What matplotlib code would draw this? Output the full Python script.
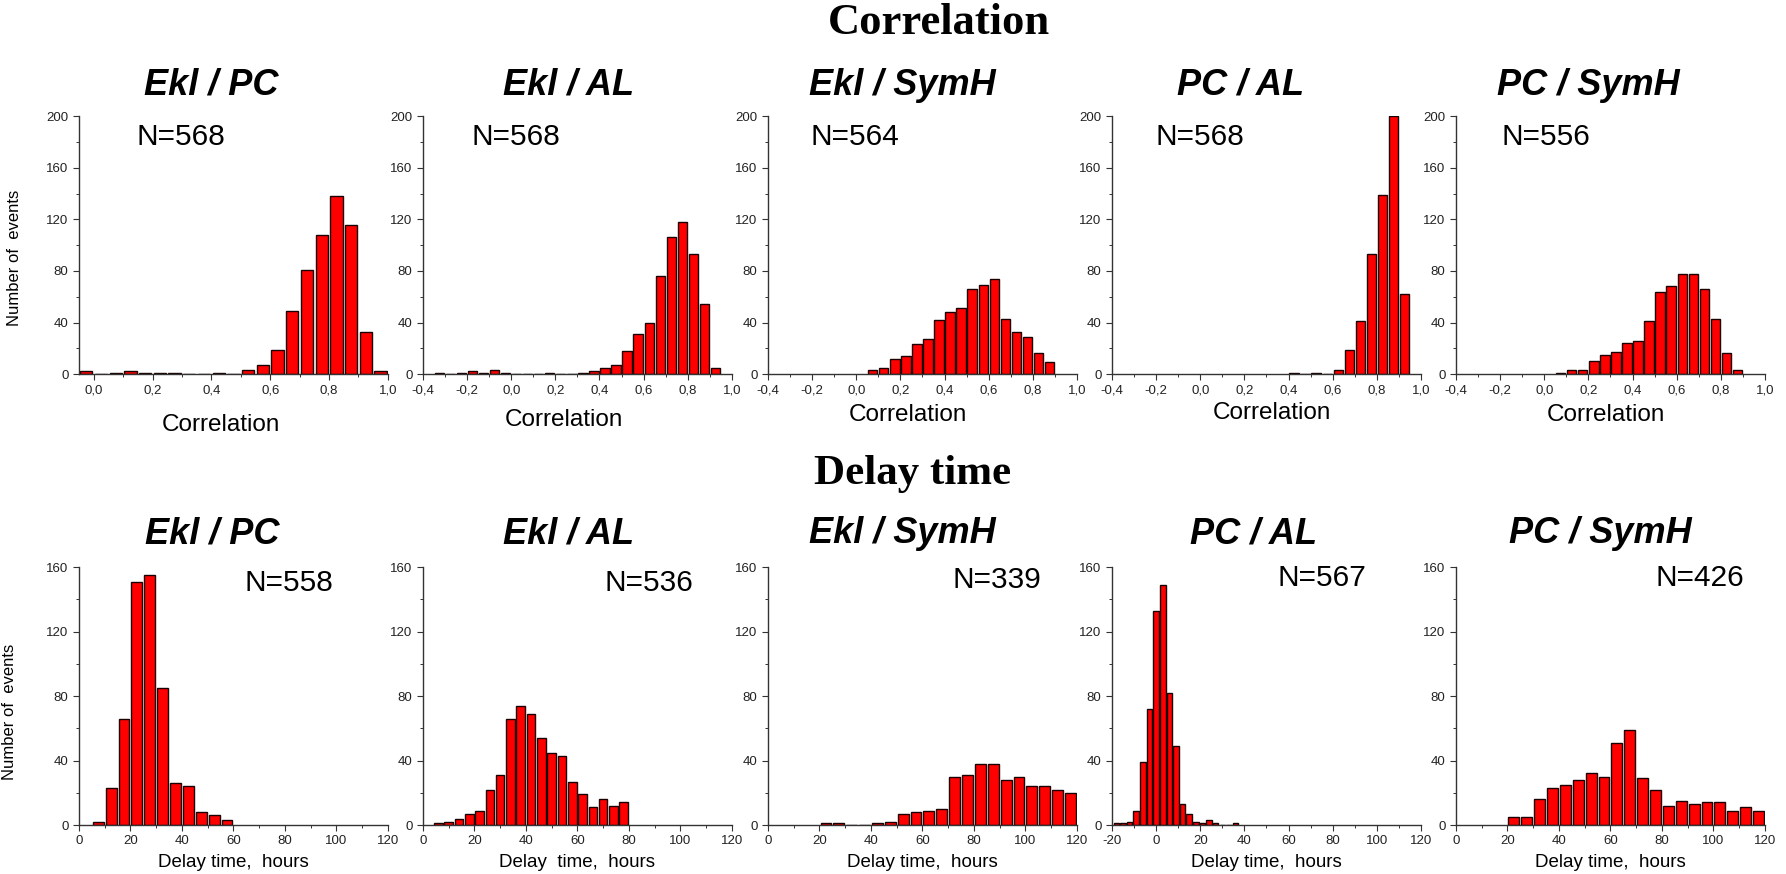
import numpy as np
import matplotlib.pyplot as plt
from matplotlib.ticker import MultipleLocator, FuncFormatter

plt.rcParams['font.family'] = ['Liberation Sans', 'DejaVu Sans']
plt.rcParams['axes.unicode_minus'] = False

BAR_COLOR = '#ff0000'
EDGE_COLOR = '#1a0000'
AXIS_COLOR = '#333333'

PAIRS = ['Ekl / PC', 'Ekl / AL', 'Ekl / SymH', 'PC / AL', 'PC / SymH']

# --- correlation histograms (bin width 0.05, first bin left edge) ---
corr_n = [568, 568, 564, 568, 556]
corr_start = [-0.05, -0.35, 0.05, 0.40, 0.05]
corr_ekl_pc = [2, 0, 1, 2, 1, 1, 1, 0, 0, 1, 0, 3, 7, 19, 49, 81, 108, 138, 116, 33, 2]
corr_ekl_al = [1, 0, 1, 2, 1, 3, 1, 0, 0, 0, 1, 0, 0, 1, 2, 5, 7, 18, 31, 40, 76,
               106, 118, 93, 54, 5]
corr_ekl_symh = [3, 5, 12, 14, 23, 27, 42, 48, 51, 66, 69, 74, 43, 33, 29, 16, 9]
corr_pc_al = [1, 0, 1, 0, 3, 19, 41, 93, 139, 200, 62]
corr_pc_symh = [1, 3, 3, 10, 15, 17, 24, 26, 41, 64, 68, 78, 78, 66, 43, 16, 3]
corr_counts = [corr_ekl_pc, corr_ekl_al, corr_ekl_symh, corr_pc_al, corr_pc_symh]
corr_xlim = [(-0.05, 1.0), (-0.4, 1.0), (-0.4, 1.0), (-0.4, 1.0), (-0.4, 1.0)]

# --- delay time histograms (hours) ---
delay_n = [558, 536, 339, 567, 426]
delay_start = [5, 4, 20, -19.5, 20]
delay_width = [5, 4, 5, 3, 5]
delay_ekl_pc = [2, 23, 66, 151, 155, 85, 26, 24, 8, 6, 3]
delay_ekl_al = [1, 2, 4, 7, 9, 22, 31, 66, 74, 69, 54, 45, 43, 27, 19, 11, 16, 12, 14]
delay_ekl_symh = [1, 1, 0, 0, 1, 2, 7, 8, 9, 10, 30, 31, 38, 38, 28, 30, 24, 24, 22, 20]
delay_pc_al = [1, 1, 2, 9, 39, 72, 133, 149, 82, 49, 13, 7, 2, 1, 3, 1, 0, 0, 1]
delay_pc_symh = [5, 5, 16, 23, 25, 28, 32, 30, 51, 59, 29, 22, 12, 15, 13, 14, 14, 9, 11, 9]
delay_counts = [delay_ekl_pc, delay_ekl_al, delay_ekl_symh, delay_pc_al, delay_pc_symh]
delay_xlim = [(0, 120), (0, 120), (0, 120), (-20, 120), (0, 120)]
delay_xlabels = ['Delay time,  hours', 'Delay  time,  hours', 'Delay time,  hours',
                 'Delay time,  hours', 'Delay time,  hours']

# layout of panels and annotations (figure / axes fractions)
LEFTS = [0.0442, 0.2368, 0.430, 0.6226, 0.8152]
WIDTH = 0.173
HEIGHT = 0.295
TOP_BOTTOM, LOW_BOTTOM = 0.572, 0.056
corr_title_x = [0.427, 0.47, 0.434, 0.417, 0.427]
corr_n_x = [0.33, 0.30, 0.28, 0.285, 0.29]
corr_xlabel_pos = [(0.46, -0.198), (0.456, -0.178), (0.453, -0.159), (0.518, -0.151), (0.485, -0.159)]
delay_title_x = [0.43, 0.47, 0.434, 0.457, 0.466]
delay_n_pos = [(0.68, 0.94), (0.73, 0.94), (0.74, 0.95), (0.68, 0.96), (0.79, 0.96)]


def comma_fmt(v, _):
    return f'{round(v, 1):.1f}'.replace('.', ',').replace('-0,0', '0,0')


def style_axes(ax):
    for side in ('top', 'right'):
        ax.spines[side].set_visible(False)
    for side in ('left', 'bottom'):
        ax.spines[side].set_color(AXIS_COLOR)
        ax.spines[side].set_linewidth(1.0)
    ax.tick_params(which='major', direction='out', length=4, width=0.8,
                   colors=AXIS_COLOR, labelsize=9.5, labelcolor='#222222')
    ax.tick_params(which='minor', direction='out', length=2.5, width=0.7, colors=AXIS_COLOR)


def draw_hist(ax, start, width, counts):
    counts = np.asarray(counts)
    edges = start + width * np.arange(len(counts))
    ax.bar(edges + width * 0.08, counts, width=width * 0.84, align='edge',
           color=BAR_COLOR, edgecolor=EDGE_COLOR, linewidth=1.0, zorder=2)


fig = plt.figure(figsize=(17.86, 8.74), dpi=100)

# top row: correlation coefficients
for i in range(5):
    ax = fig.add_axes([LEFTS[i], TOP_BOTTOM, WIDTH, HEIGHT])
    draw_hist(ax, corr_start[i], 0.05, corr_counts[i])
    ax.set_xlim(*corr_xlim[i])
    ax.set_ylim(0, 200)
    ax.xaxis.set_major_locator(MultipleLocator(0.2))
    ax.xaxis.set_minor_locator(MultipleLocator(0.1))
    ax.xaxis.set_major_formatter(FuncFormatter(comma_fmt))
    ax.yaxis.set_major_locator(MultipleLocator(40))
    ax.yaxis.set_minor_locator(MultipleLocator(20))
    style_axes(ax)
    ax.text(corr_title_x[i], 1.12, PAIRS[i], transform=ax.transAxes, ha='center', va='center',
            fontsize=26, fontweight='bold', fontstyle='italic')
    ax.text(corr_n_x[i], 0.92, f'N={corr_n[i]}', transform=ax.transAxes, ha='center',
            va='center', fontsize=21.5)
    ax.set_xlabel('Correlation', fontsize=17.5)
    ax.xaxis.set_label_coords(*corr_xlabel_pos[i])
    ax.xaxis.label.set_verticalalignment('center')
    if i == 0:
        ax.set_ylabel('Number of  events', fontsize=12)
        ax.yaxis.set_label_coords(-0.185, 0.45)

# bottom row: delay times
for i in range(5):
    ax = fig.add_axes([LEFTS[i], LOW_BOTTOM, WIDTH, HEIGHT])
    draw_hist(ax, delay_start[i], delay_width[i], delay_counts[i])
    ax.set_xlim(*delay_xlim[i])
    ax.set_ylim(0, 160)
    ax.xaxis.set_major_locator(MultipleLocator(20))
    ax.xaxis.set_minor_locator(MultipleLocator(10))
    ax.yaxis.set_major_locator(MultipleLocator(40))
    ax.yaxis.set_minor_locator(MultipleLocator(20))
    style_axes(ax)
    ax.text(delay_title_x[i], 1.13, PAIRS[i], transform=ax.transAxes, ha='center', va='center',
            fontsize=26, fontweight='bold', fontstyle='italic')
    nx, ny = delay_n_pos[i]
    ax.text(nx, ny, f'N={delay_n[i]}', transform=ax.transAxes, ha='center',
            va='center', fontsize=21.5)
    ax.set_xlabel(delay_xlabels[i], fontsize=13.5)
    ax.xaxis.set_label_coords(0.5, -0.147)
    ax.xaxis.label.set_verticalalignment('center')
    if i == 0:
        ax.set_ylabel('Number of  events', fontsize=12)
        ax.yaxis.set_label_coords(-0.2, 0.44)

fig.text(0.526, 0.974, 'Correlation', ha='center', va='center', fontsize=32,
         fontweight='bold', family=['Liberation Serif', 'DejaVu Serif'])
fig.text(0.511, 0.458, 'Delay time', ha='center', va='center', fontsize=31,
         fontweight='bold', family=['Liberation Serif', 'DejaVu Serif'])

fig.savefig('out.png', dpi=100)
